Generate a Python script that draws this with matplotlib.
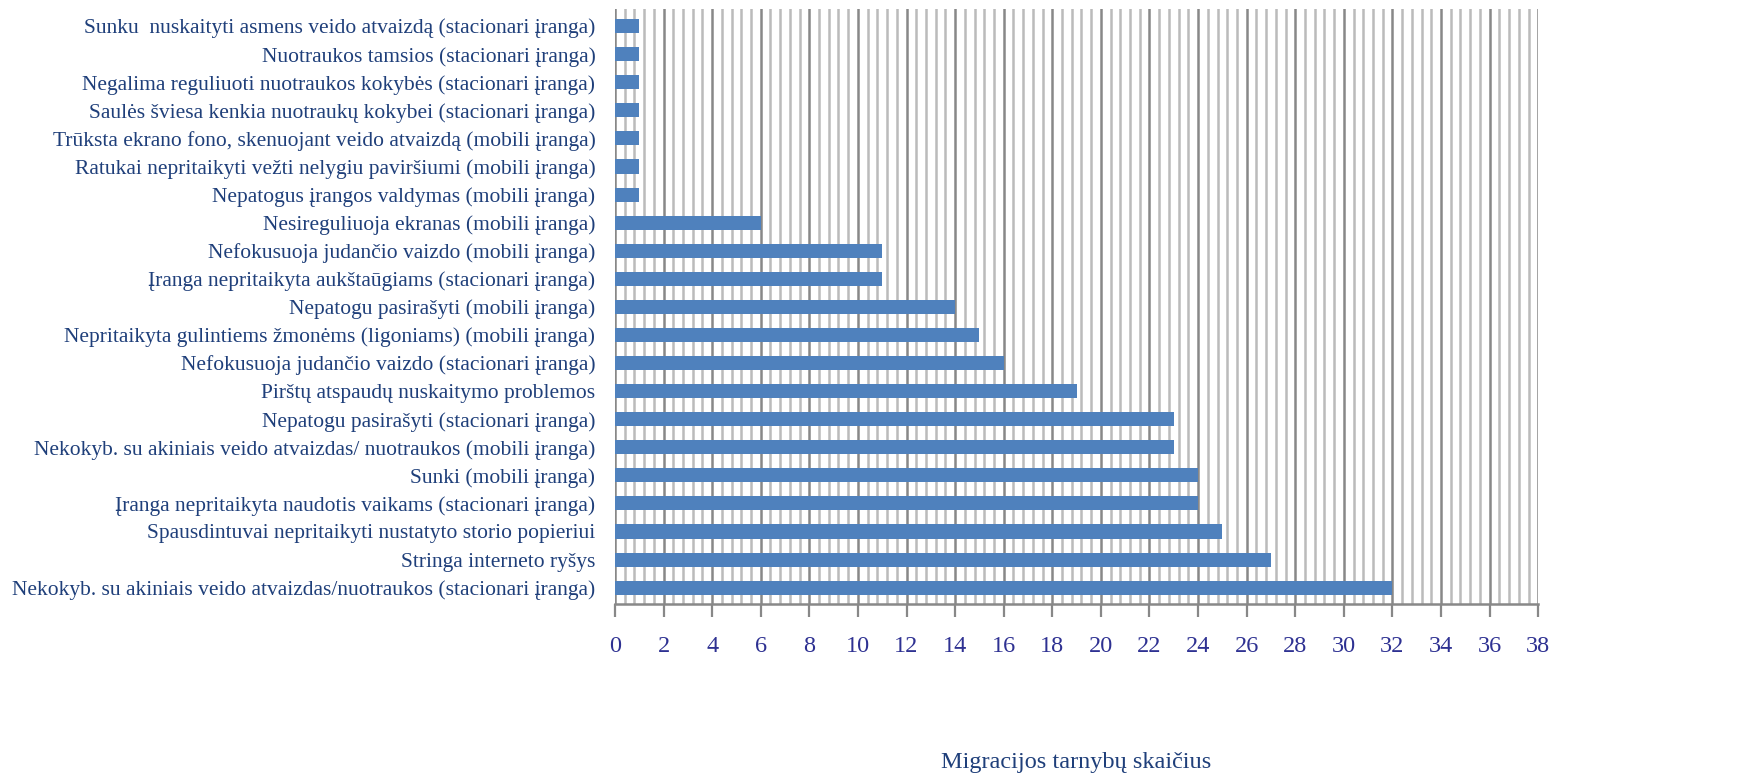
import matplotlib
matplotlib.use('AGG')
import matplotlib.pyplot as plt
from matplotlib.ticker import MultipleLocator

# categories listed top to bottom as in the chart
categories = [
    'Sunku  nuskaityti asmens veido atvaizdą (stacionari įranga)',
    'Nuotraukos tamsios (stacionari įranga)',
    'Negalima reguliuoti nuotraukos kokybės (stacionari įranga)',
    'Saulės šviesa kenkia nuotraukų kokybei (stacionari įranga)',
    'Trūksta ekrano fono, skenuojant veido atvaizdą (mobili įranga)',
    'Ratukai nepritaikyti vežti nelygiu paviršiumi (mobili įranga)',
    'Nepatogus įrangos valdymas (mobili įranga)',
    'Nesireguliuoja ekranas (mobili įranga)',
    'Nefokusuoja judančio vaizdo (mobili įranga)',
    'Įranga nepritaikyta aukštaūgiams (stacionari įranga)',
    'Nepatogu pasirašyti (mobili įranga)',
    'Nepritaikyta gulintiems žmonėms (ligoniams) (mobili įranga)',
    'Nefokusuoja judančio vaizdo (stacionari įranga)',
    'Pirštų atspaudų nuskaitymo problemos',
    'Nepatogu pasirašyti (stacionari įranga)',
    'Nekokyb. su akiniais veido atvaizdas/ nuotraukos (mobili įranga)',
    'Sunki (mobili įranga)',
    'Įranga nepritaikyta naudotis vaikams (stacionari įranga)',
    'Spausdintuvai nepritaikyti nustatyto storio popieriui',
    'Stringa interneto ryšys',
    'Nekokyb. su akiniais veido atvaizdas/nuotraukos (stacionari įranga)',
]
counts = [1, 1, 1, 1, 1, 1, 1, 6, 11, 11, 14, 15, 16, 19, 23, 23, 24, 24, 25, 27, 32]
x_label = 'Migracijos tarnybų skaičius'

plt.rcParams['font.family'] = ['Liberation Serif', 'DejaVu Serif']

fig = plt.figure(figsize=(17.62, 7.73), dpi=100)
ax = fig.add_axes([0.349, 0.218, 0.524, 0.770])

pos = list(range(len(categories)))[::-1]
ax.barh(pos, counts, height=0.5, color='#4F81BD', zorder=3)

ax.set_xlim(0, 38)
ax.set_ylim(-0.6, len(categories) - 0.4)
ax.xaxis.set_major_locator(MultipleLocator(2))
ax.xaxis.set_minor_locator(MultipleLocator(0.4))
ax.grid(which='major', axis='x', color='#888888', linewidth=1.8, zorder=1)
ax.grid(which='minor', axis='x', color='#BBBBBB', linewidth=1.8, zorder=1)
ax.tick_params(axis='x', which='major', length=9, width=1.6, color='#888888',
               labelsize=17.5, labelcolor='#2E3192', pad=14)
ax.tick_params(axis='x', which='minor', length=0)
ax.tick_params(axis='y', length=0, labelsize=15.5, labelcolor='#1F3F7A', pad=14)

ax.set_yticks(pos)
ax.set_yticklabels(categories)

for side in ['top', 'right', 'left']:
    ax.spines[side].set_visible(False)
ax.spines['bottom'].set_color('#888888')
ax.spines['bottom'].set_linewidth(1.8)

ax.set_xlabel(x_label, fontsize=17.5, color='#1F3F7A', labelpad=68)

fig.savefig('out.png', dpi=100)
